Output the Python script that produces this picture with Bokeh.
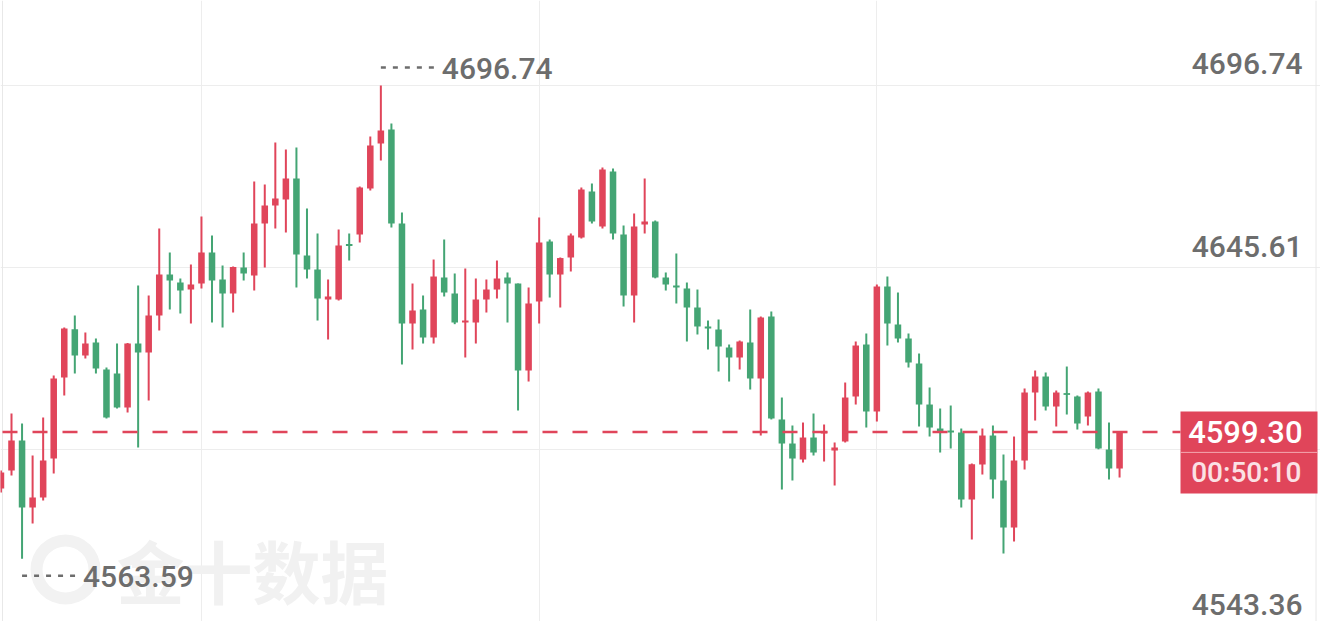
from bokeh.plotting import figure
from bokeh.models import Grid, FixedTicker
from bokeh.core.properties import value
from bokeh.embed import file_html
from bokeh.resources import INLINE

# ---------------- data ----------------
opens = [4583.38, 4588.44, 4596.88, 4578.03, 4580.84, 4591.81, 4614.60, 4628.20, 4620.79, 4624.45,
         4616.85, 4615.73, 4606.16, 4624.16, 4621.63, 4632.04, 4643.57, 4641.32, 4639.35, 4641.04,
         4649.76, 4642.17, 4638.23, 4645.54, 4643.29, 4657.92, 4662.98, 4664.67, 4670.58, 4648.92,
         4644.98, 4636.54, 4636.54, 4652.01, 4654.83, 4667.77, 4680.42, 4684.36, 4657.92, 4629.79,
         4633.73, 4625.85, 4642.73, 4638.23, 4630.07, 4630.07, 4636.54, 4639.35, 4642.73, 4641.04,
         4616.57, 4635.98, 4652.86, 4643.57, 4648.36, 4653.98, 4666.92, 4657.08, 4672.55, 4654.83,
         4637.67, 4657.64, 4658.48, 4642.73, 4640.48, 4639.64, 4634.29, 4628.95, 4628.10, 4623.04,
         4620.23, 4624.45, 4614.32, 4631.76, 4602.79, 4596.03, 4591.53, 4597.72, 4598.85, 4594.06,
         4596.60, 4609.26, 4623.88, 4605.04, 4640.20, 4629.51, 4625.57, 4618.54, 4607.00, 4600.25,
         4599.69, 4599.13, 4580.28, 4590.13, 4598.28, 4585.63, 4572.40, 4591.25, 4610.38, 4614.88,
         4606.44, 4610.10, 4609.26, 4603.63, 4610.66, 4594.35, 4589.00]
highs = [4588.44, 4604.47, 4601.66, 4592.66, 4603.35, 4615.16, 4628.66, 4632.04, 4627.26, 4625.57,
         4617.41, 4624.16, 4624.30, 4640.48, 4637.67, 4656.51, 4649.76, 4642.45, 4646.39, 4659.89,
         4654.54, 4646.11, 4645.82, 4649.76, 4669.73, 4668.89, 4680.71, 4678.74, 4679.30, 4662.14,
         4655.11, 4642.17, 4656.23, 4655.11, 4668.33, 4682.39, 4696.74, 4686.05, 4661.01, 4641.04,
         4637.67, 4647.79, 4653.42, 4643.86, 4645.26, 4642.45, 4642.17, 4647.51, 4644.14, 4641.04,
         4639.92, 4659.61, 4653.42, 4648.36, 4655.11, 4668.05, 4669.17, 4673.67, 4673.39, 4657.36,
         4660.73, 4670.58, 4658.76, 4644.14, 4649.48, 4641.32, 4639.35, 4630.63, 4630.92, 4623.88,
         4625.01, 4633.73, 4631.76, 4633.17, 4608.97, 4601.10, 4601.94, 4604.47, 4601.38, 4596.32,
         4613.19, 4624.73, 4626.98, 4640.76, 4643.01, 4638.51, 4626.98, 4621.35, 4611.79, 4605.88,
         4606.72, 4600.25, 4590.41, 4600.25, 4601.10, 4592.94, 4598.00, 4611.51, 4616.57, 4616.01,
         4610.94, 4617.69, 4609.54, 4610.66, 4611.51, 4601.94, 4599.50]
lows = [4582.25, 4587.03, 4563.59, 4573.53, 4580.00, 4587.60, 4609.54, 4615.73, 4619.94, 4615.73,
        4603.07, 4605.90, 4604.75, 4594.91, 4608.13, 4627.82, 4633.73, 4632.60, 4629.79, 4639.64,
        4630.07, 4628.66, 4632.88, 4641.89, 4639.07, 4645.54, 4656.51, 4655.39, 4639.92, 4642.45,
        4630.63, 4625.29, 4636.26, 4647.51, 4652.58, 4667.20, 4675.64, 4656.79, 4618.26, 4622.48,
        4624.16, 4624.16, 4637.39, 4629.60, 4620.23, 4624.16, 4632.88, 4636.82, 4630.07, 4605.32,
        4613.47, 4629.79, 4637.10, 4634.29, 4644.42, 4653.70, 4657.92, 4656.51, 4653.42, 4634.57,
        4630.07, 4655.11, 4642.50, 4639.07, 4635.42, 4624.73, 4626.70, 4622.48, 4616.29, 4613.47,
        4616.85, 4611.22, 4598.28, 4602.80, 4583.09, 4585.63, 4590.69, 4592.66, 4590.97, 4584.22,
        4596.32, 4607.00, 4600.53, 4602.22, 4623.60, 4624.45, 4617.41, 4600.82, 4598.00, 4593.50,
        4594.63, 4578.03, 4569.03, 4587.31, 4580.56, 4565.09, 4568.47, 4588.72, 4602.50, 4605.32,
        4600.82, 4604.19, 4599.97, 4601.10, 4594.40, 4585.91, 4586.47]
closes = [4587.88, 4596.88, 4578.03, 4580.84, 4591.25, 4614.32, 4628.40, 4620.79, 4624.16, 4617.13,
          4603.35, 4606.16, 4624.16, 4621.63, 4632.04, 4643.57, 4641.89, 4639.07, 4640.76, 4649.76,
          4641.89, 4638.23, 4645.70, 4643.86, 4657.92, 4662.98, 4664.95, 4670.58, 4649.20, 4644.98,
          4636.82, 4637.39, 4651.73, 4651.73, 4668.05, 4679.86, 4684.08, 4657.92, 4629.79, 4633.45,
          4625.85, 4643.01, 4638.51, 4630.07, 4630.63, 4636.54, 4639.35, 4642.45, 4641.04, 4616.57,
          4635.42, 4652.58, 4643.57, 4648.20, 4654.54, 4667.48, 4658.48, 4673.11, 4655.11, 4637.67,
          4657.08, 4658.48, 4642.73, 4640.76, 4639.92, 4634.29, 4628.95, 4628.38, 4623.32, 4620.23,
          4624.73, 4614.32, 4631.48, 4603.07, 4596.03, 4591.81, 4597.72, 4593.50, 4599.41, 4594.91,
          4608.97, 4623.60, 4605.04, 4640.20, 4629.79, 4625.57, 4618.82, 4607.00, 4600.53, 4599.13,
          4599.13, 4580.28, 4590.20, 4598.28, 4585.91, 4572.40, 4591.25, 4610.38, 4614.88, 4606.44,
          4610.38, 4609.82, 4601.66, 4610.38, 4594.63, 4589.00, 4599.30]

tick_values = [4696.74, 4645.61, 4594.48, 4543.36]
tick_labels = ["4696.74", "4645.61", "4594.48", "4543.36"]
vgrid_at = [19, 51, 83]              # candle indices carrying a vertical grid line
countdown = "00:50:10"
watermark = "金十数据"

# ---------------- layout / style ----------------
W, H = 1320, 621
PX_X = 10.553          # pixels per candle
PX_Y = 3.555           # pixels per price unit
RED = "#e0455a"
GREEN = "#44a574"
GRAY = "#6d6d6d"
GRID = "#ededed"
NUM_FONT = value("'Roboto Medium', Roboto")

idx = list(range(len(closes)))
x_start = -0.447 / PX_X
x_end = x_start + W / PX_X
y_top = max(highs) + 85 / PX_Y
y_bot = y_top - H / PX_Y


def sx(px):   # picture pixel -> data x
    return x_start + px / PX_X


def sy(py):   # picture pixel -> data y
    return y_top - py / PX_Y


def dy(px):   # pixel distance -> price distance
    return px / PX_Y


p = figure(width=W, height=H, x_range=(x_start, x_end), y_range=(y_bot, y_top),
           output_backend="svg", toolbar_location=None,
           x_axis_location=None, y_axis_location=None, min_border=0,
           outline_line_color=None, background_fill_color="white",
           border_fill_color="white")
p.center = [r for r in p.center if not isinstance(r, Grid)]

p.add_layout(Grid(dimension=1, ticker=FixedTicker(ticks=tick_values),
                  grid_line_color=GRID, grid_line_width=1))
p.add_layout(Grid(dimension=0, ticker=FixedTicker(ticks=vgrid_at),
                  grid_line_color=GRID, grid_line_width=1))

# chart border lines (left / right)
p.segment(x0=[sx(2), sx(1315.5)], x1=[sx(2), sx(1315.5)], y0=[y_bot] * 2, y1=[y_top] * 2,
          line_color="#e8e8e8", line_width=1)

# watermark (logo ring + text)
p.annulus(x=[sx(65)], y=[sy(569)], inner_radius=23, outer_radius=35,
          inner_radius_units="screen", outer_radius_units="screen",
          fill_color="#f2f2f2", line_color=None)
p.text(x=[sx(116)], y=[sy(569)], text=[watermark],
       text_font=value("Noto Sans CJK SC"), text_font_style="bold",
       text_font_size="68px", text_color="#f1f1f1",
       text_align="left", text_baseline="middle")

# candles
colors = [RED if c >= o else GREEN for o, c in zip(opens, closes)]
tops, bots = [], []
for o, c in zip(opens, closes):
    t, b = max(o, c), min(o, c)
    if t - b < 0.5:
        m = (t + b) / 2
        t, b = m + 0.25, m - 0.25
    tops.append(t)
    bots.append(b)

p.segment(x0=idx, x1=idx, y0=lows, y1=highs, line_color=colors, line_width=2)
p.vbar(x=idx, width=0.62, top=tops, bottom=bots, fill_color=colors, line_color=None)

# current price dashed line
last = closes[-1]
p.segment(x0=[x_start], x1=[sx(1180)], y0=[last], y1=[last], line_color=RED,
          line_width=2.5, line_dash="15 15", line_dash_offset=-2)

# axis tick labels (inside the plot, right side)
label_lift = [22, 21, 22, 26]
p.text(x=[sx(1302)] * len(tick_values),
       y=[v + dy(l) for v, l in zip(tick_values, label_lift)],
       text=tick_labels, text_font=NUM_FONT, text_font_size="30px",
       text_color=GRAY, text_align="right", text_baseline="alphabetic")

# last-price box
p.quad(left=[sx(1180)], right=[sx(1317)], top=[last + dy(20.5)], bottom=[last - dy(61.5)],
       fill_color=RED, line_color=None)
p.segment(x0=[sx(1180)], x1=[sx(1317)], y0=[last - dy(20.5)], y1=[last - dy(20.5)],
          line_color="#f3a7b0", line_width=1)
p.text(x=[sx(1302)], y=[last - dy(0.5)], text=[f"{last:.2f}"], text_font=NUM_FONT,
       text_font_size="31px", text_color="#ffffff", text_align="right",
       text_baseline="alphabetic")
p.text(x=[sx(1301)], y=[last - dy(40.5)], text=[countdown], text_font=NUM_FONT,
       text_font_size="28px", text_color="#fbe1e5", text_align="right",
       text_baseline="alphabetic")

# high / low markers
i_hi = highs.index(max(highs))
i_lo = lows.index(min(lows))
hi, lo = highs[i_hi], lows[i_lo]
p.segment(x0=[i_hi, i_lo], x1=[i_hi + 53 / PX_X, i_lo + 53 / PX_X],
          y0=[hi + dy(18), lo - dy(17)], y1=[hi + dy(18), lo - dy(17)],
          line_color="#6d6d6d", line_width=2.5, line_dash="5 7")
p.text(x=[i_hi + 61 / PX_X, i_lo + 61 / PX_X], y=[hi + dy(17), lo - dy(17.6)],
       text=[f"{hi:.2f}", f"{lo:.2f}"], text_font=NUM_FONT, text_font_size="30px",
       text_color=GRAY, text_align="left", text_baseline="alphabetic")

open("out.html", "w").write(file_html(p, INLINE))
